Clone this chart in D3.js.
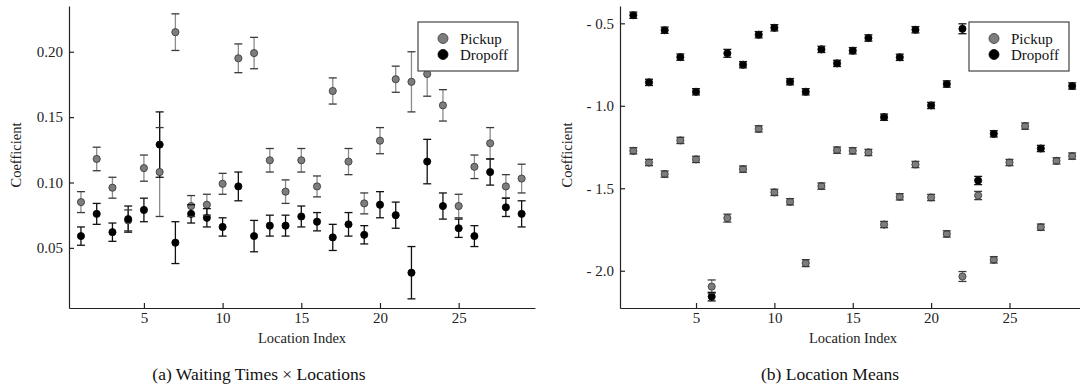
<!DOCTYPE html>
<html>
<head>
<meta charset="utf-8">
<script src="https://cdn.jsdelivr.net/npm/d3@7"></script>
<style>
  body { margin: 0; background: #fff; }
  svg { font-family: "Liberation Serif", "Times New Roman", serif; }
  .axis path, .axis line { stroke: #222; stroke-width: 1.2; }
  .axis text { font-size: 15px; fill: #222; font-family: "Liberation Serif", serif; }
</style>
</head>
<body>
<script>
var width = 1080, height = 391;

var locations = d3.range(1, 30);

// (a) Waiting Times x Locations
var pickupCoef = [0.085, 0.118, 0.096, 0.071, 0.111, 0.108, 0.215, 0.082, 0.083, 0.099,
                  0.195, 0.199, 0.117, 0.093, 0.117, 0.097, 0.170, 0.116, 0.084, 0.132,
                  0.179, 0.177, 0.183, 0.159, 0.082, 0.112, 0.130, 0.097, 0.103];
var pickupErr  = [0.008, 0.009, 0.008, 0.008, 0.010, 0.034, 0.014, 0.008, 0.008, 0.008,
                  0.011, 0.012, 0.009, 0.009, 0.009, 0.008, 0.010, 0.010, 0.008, 0.010,
                  0.010, 0.023, 0.017, 0.012, 0.009, 0.009, 0.012, 0.009, 0.011];
var dropoffCoef = [0.059, 0.076, 0.062, 0.072, 0.079, 0.129, 0.054, 0.076, 0.073, 0.066,
                   0.097, 0.059, 0.067, 0.067, 0.074, 0.070, 0.058, 0.068, 0.060, 0.083,
                   0.075, 0.031, 0.116, 0.082, 0.065, 0.059, 0.108, 0.081, 0.076];
var dropoffErr  = [0.007, 0.008, 0.007, 0.010, 0.009, 0.025, 0.016, 0.007, 0.007, 0.007,
                   0.011, 0.012, 0.008, 0.008, 0.008, 0.007, 0.010, 0.009, 0.007, 0.010,
                   0.010, 0.020, 0.017, 0.010, 0.007, 0.008, 0.010, 0.007, 0.010];

// (b) Location Means
var pickupMean = [-1.273, -1.344, -1.414, -1.210, -1.325, -2.096, -1.681, -1.384, -1.140, -1.525,
                  -1.582, -1.954, -1.487, -1.269, -1.273, -1.283, -1.720, -1.552, -1.356, -1.556,
                  -1.777, -2.035, -1.544, -1.934, -1.344, -1.123, -1.736, -1.334, -1.305];
var pickupMeanErr = [0.019, 0.019, 0.019, 0.019, 0.019, 0.040, 0.024, 0.019, 0.019, 0.019,
                     0.019, 0.021, 0.019, 0.019, 0.019, 0.019, 0.019, 0.019, 0.019, 0.019,
                     0.019, 0.030, 0.025, 0.019, 0.019, 0.019, 0.019, 0.019, 0.019];
var dropoffMean = [-0.451, -0.858, -0.542, -0.705, -0.915, -2.157, -0.682, -0.751, -0.569, -0.527,
                   -0.854, -0.915, -0.658, -0.743, -0.666, -0.589, -1.069, -0.706, -0.539, -0.998,
                   -0.868, -0.533, -1.453, -1.170, -0.620, -0.580, -1.259, -0.650, -0.880];
var dropoffMeanErr = [0.019, 0.019, 0.019, 0.019, 0.019, 0.026, 0.024, 0.019, 0.019, 0.019,
                      0.019, 0.019, 0.019, 0.019, 0.019, 0.019, 0.019, 0.019, 0.019, 0.019,
                      0.019, 0.030, 0.025, 0.019, 0.019, 0.019, 0.019, 0.019, 0.019];

var xTicks = [5, 10, 15, 20, 25];
var yTicksA = [0.05, 0.10, 0.15, 0.20];
var yTicksB = [-2.0, -1.5, -1.0, -0.5];
var seriesNames = ["Pickup", "Dropoff"];

var styles = {
  Pickup:  { fill: "#7d7d7d", stroke: "#333", bar: "#8c8c8c", cap: "#3a3a3a" },
  Dropoff: { fill: "#000",    stroke: "#000", bar: "#111",    cap: "#111" }
};

var svg = d3.select("body").append("svg")
    .attr("width", width)
    .attr("height", height);

function zip(vals, errs) {
  return locations.map((loc, i) => ({ loc: loc, v: vals[i], e: errs[i] }));
}

function panel(cfg) {
  var x = d3.scaleLinear().domain(cfg.xDomain).range(cfg.xRange);
  var y = d3.scaleLinear().domain(cfg.yDomain).range([308, 6]);
  var g = svg.append("g");

  g.append("g").attr("class", "axis")
    .attr("transform", "translate(0,308)")
    .call(d3.axisBottom(x).tickValues(xTicks).tickSizeInner(-5).tickSizeOuter(0).tickPadding(4));

  g.append("g").attr("class", "axis")
    .attr("transform", "translate(" + cfg.xRange[0] + ",0)")
    .call(d3.axisLeft(y).tickValues(cfg.yTicks).tickSizeInner(-5).tickSizeOuter(0)
      .tickPadding(6).tickFormat(cfg.fmt));

  var series = [
    { name: "Pickup", data: zip(cfg.pickup, cfg.pickupErr) },
    { name: "Dropoff", data: zip(cfg.dropoff, cfg.dropoffErr) }
  ];

  // vertical error lines, then markers, then caps on top
  series.forEach(function(s) {
    var st = styles[s.name];
    g.append("g").selectAll("line").data(s.data).enter().append("line")
      .attr("x1", d => x(d.loc)).attr("x2", d => x(d.loc))
      .attr("y1", d => y(d.v - d.e)).attr("y2", d => y(d.v + d.e))
      .attr("stroke", st.bar).attr("stroke-width", 1.3);
  });
  series.forEach(function(s) {
    var st = styles[s.name];
    g.append("g").selectAll("circle").data(s.data).enter().append("circle")
      .attr("cx", d => x(d.loc)).attr("cy", d => y(d.v))
      .attr("r", 3.6)
      .attr("fill", st.fill).attr("stroke", st.stroke).attr("stroke-width", 0.8);
  });
  series.forEach(function(s) {
    var st = styles[s.name];
    [-1, 1].forEach(function(k) {
      g.append("g").selectAll("line").data(s.data).enter().append("line")
        .attr("x1", d => x(d.loc) - 4).attr("x2", d => x(d.loc) + 4)
        .attr("y1", d => y(d.v + k * d.e)).attr("y2", d => y(d.v + k * d.e))
        .attr("stroke", st.cap).attr("stroke-width", 1.3);
    });
  });

  // legend
  var lg = g.append("g").attr("transform", "translate(" + cfg.legendX + ",22)");
  lg.append("rect").attr("width", 100).attr("height", 49)
    .attr("fill", "#fff").attr("stroke", "#444").attr("stroke-width", 1.2);
  seriesNames.forEach(function(n, i) {
    lg.append("circle").attr("cx", 25).attr("cy", 16.5 + i * 16).attr("r", 5)
      .attr("fill", styles[n].fill).attr("stroke", styles[n].stroke).attr("stroke-width", 0.8);
    lg.append("text").attr("x", 42).attr("y", 16.5 + i * 16).attr("dy", "0.35em")
      .attr("font-size", 15).attr("fill", "#111").text(n);
  });

  g.append("text")
    .attr("x", cfg.xLabelX).attr("y", 343)
    .attr("text-anchor", "middle").attr("font-size", 14.5).attr("fill", "#222")
    .text("Location Index");

  g.append("text")
    .attr("transform", "translate(" + cfg.yLabelX + ",155) rotate(-90)")
    .attr("text-anchor", "middle").attr("font-size", 14.5).attr("fill", "#222")
    .text("Coefficient");

  g.append("text")
    .attr("x", cfg.captionX).attr("y", 380)
    .attr("text-anchor", "middle").attr("font-size", 17.5).attr("fill", "#111")
    .text(cfg.caption);
}

panel({
  xDomain: [0.24, 29.85], xRange: [69, 535],
  yDomain: [0.004, 0.235], yTicks: yTicksA,
  fmt: d3.format(".2f"),
  pickup: pickupCoef, pickupErr: pickupErr,
  dropoff: dropoffCoef, dropoffErr: dropoffErr,
  legendX: 418, xLabelX: 302, yLabelX: 21, captionX: 259,
  caption: "(a) Waiting Times \u00d7 Locations"
});

panel({
  xDomain: [0.15, 29.5], xRange: [620, 1080],
  yDomain: [-2.226, -0.395], yTicks: yTicksB,
  fmt: d => "- " + d3.format(".1f")(Math.abs(d)),
  pickup: pickupMean, pickupErr: pickupMeanErr,
  dropoff: dropoffMean, dropoffErr: dropoffMeanErr,
  legendX: 969, xLabelX: 853, yLabelX: 572, captionX: 830,
  caption: "(b) Location Means"
});
</script>
</body>
</html>
